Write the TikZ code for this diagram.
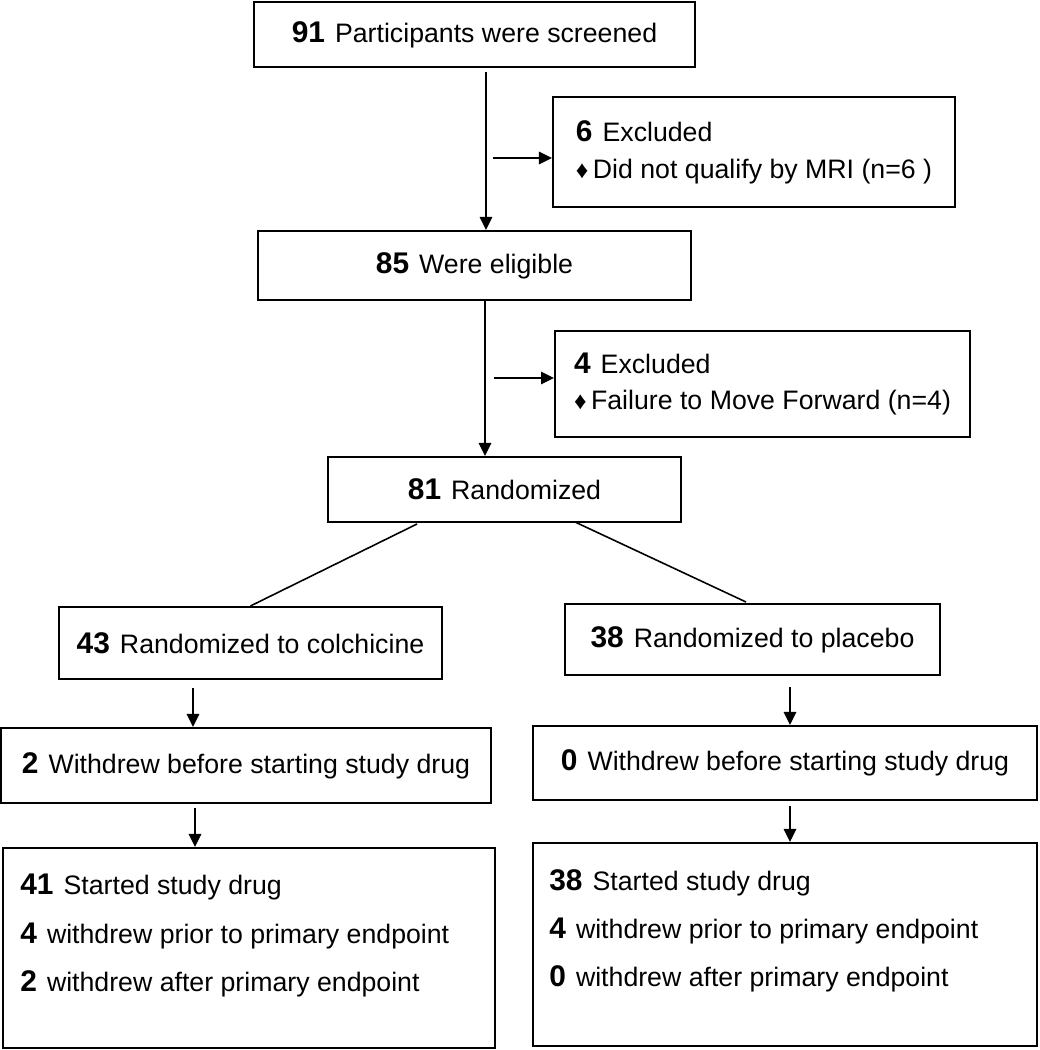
\documentclass[tikz,border=0pt]{standalone}
\usepackage{fontspec}
\setmainfont{Liberation Sans}
\usetikzlibrary{arrows.meta,positioning}
\tikzset{b/.style={draw=black, line width=1.2pt, inner sep=0, align=center, font=\fontsize{15.2}{21}\selectfont}}
\tikzset{t/.style={inner sep=0, align=left, font=\fontsize{15.2}{27.5}\selectfont}}
\tikzset{a/.style={line width=0.9pt, -{Triangle[length=0.26cm,width=0.25cm]}}}
\tikzset{l/.style={line width=0.9pt}}
\newcommand{\cnt}[1]{{\fontsize{17}{21}\selectfont\bfseries #1}\hspace{1.5pt}}
\newcommand{\dia}{{\fontsize{14}{14}\selectfont ♦}}

\begin{document}
\begin{tikzpicture}[x=0.02cm, y=-0.02cm]
    \useasboundingbox (0,0) rectangle (1039,1050);

    % trunk
    \node[b, minimum width=8.82cm, minimum height=1.30cm] (screen) at (474.5,34.5) {\cnt{91} Participants were screened};
    \node[b, align=left, minimum width=8.04cm, minimum height=2.20cm] (excl1) at (754,152)
      {\cnt{6} Excluded\\\dia\,Did not qualify by MRI (n=6 )};
    \node[b, minimum width=8.66cm, minimum height=1.38cm] (elig) at (474.5,265.5) {\cnt{85} Were eligible};
    \node[b, align=left, minimum width=8.30cm, minimum height=2.12cm] (excl2) at (762.5,384)
      {\cnt{4} Excluded\\\dia\,Failure to Move Forward (n=4)};
    \node[b, minimum width=7.06cm, minimum height=1.30cm] (rand) at (504.5,489.5) {\cnt{81} Randomized};

    % arms
    \node[b, minimum width=7.66cm, minimum height=1.44cm] (colch) at (250.5,643) {\cnt{43} Randomized to colchicine};
    \node[b, minimum width=7.50cm, minimum height=1.42cm] (plac) at (752.5,639.5) {\cnt{38} Randomized to placebo};
    \node[b, minimum width=9.80cm, minimum height=1.50cm] (wdA) at (246,765.5) {\cnt{2} Withdrew before starting study drug};
    \node[b, minimum width=10.08cm, minimum height=1.48cm] (wdB) at (785,763) {\cnt{0} Withdrew before starting study drug};
    \node[b, minimum width=9.84cm, minimum height=4.00cm] (stA) at (249,948) {};
    \node[b, minimum width=10.08cm, minimum height=4.06cm] (stB) at (785,944.5) {};
    \node[t, anchor=north west] (stAt) at ([xshift=0.36cm, yshift=-0.54cm]stA.north west)
      {\cnt{41} Started study drug\\\cnt{4} withdrew prior to primary endpoint\\\cnt{2} withdrew after primary endpoint};
    \node[t, anchor=north west] (stBt) at ([xshift=0.34cm, yshift=-0.54cm]stB.north west)
      {\cnt{38} Started study drug\\\cnt{4} withdrew prior to primary endpoint\\\cnt{0} withdrew after primary endpoint};

    \coordinate (c1) at (486,72);
    \coordinate (b1) at (493,158);
    \coordinate (c2) at (485,300);
    \coordinate (b2) at (494,378);
    \draw[a] (c1) -- (c1 |- elig.north);
    \draw[a] (b1) -- (b1 -| excl1.west);
    \draw[a] (c2) -- (c2 |- rand.north);
    \draw[a] (b2) -- (b2 -| excl2.west);

    \coordinate (sA) at (417,524);
    \coordinate (sB) at (575,522);
    \draw[l] (sA) -- (colch.north);
    \draw[l] (sB) -- (746,602) coordinate (eB);

    \coordinate (dA) at (193,688);
    \coordinate (dB) at (790,687);
    \coordinate (eA) at (195,808);
    \coordinate (fB) at (790,806);
    \draw[a] (dA) -- (dA |- wdA.north);
    \draw[a] (dB) -- (dB |- wdB.north);
    \draw[a] (eA) -- (eA |- stA.north);
    \draw[a] (fB) -- (fB |- stB.north);
\end{tikzpicture}
\end{document}
